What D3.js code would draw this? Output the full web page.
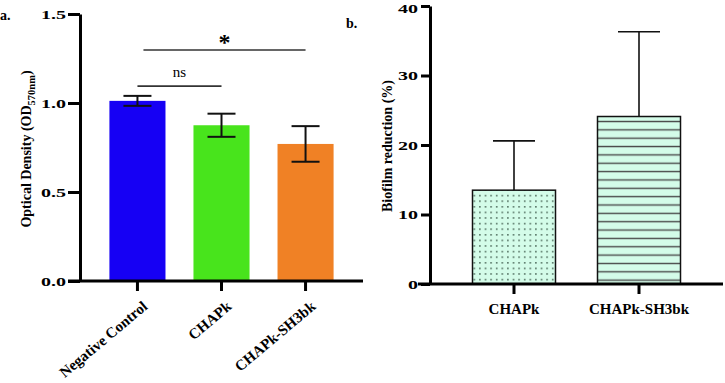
<!DOCTYPE html>
<html>
<head>
<meta charset="utf-8">
<script src="https://cdn.jsdelivr.net/npm/d3@7"></script>
<style>
  body { margin: 0; background: #fff; }
  svg { display: block; font-family: "Liberation Serif", "Times New Roman", serif; }
  .axis path, .axis line { stroke: #000; stroke-width: 3px; }
  .axis text { font-size: 15px; font-weight: bold; fill: #000; font-family: "Liberation Serif", serif; }
  .yax text { font-size: 13px; }
</style>
</head>
<body>
<div id="chart"></div>
<script>
// panel a data
const groupsA = ["Negative Control", "CHAPk", "CHAPk-SH3bk"];
const odMean = [1.012, 0.875, 0.77];
const odErr = [0.028, 0.065, 0.10];
const colorsA = ["#1600f4", "#48e41c", "#f08125"];
const ticksA = [0, 0.5, 1.0, 1.5];
const sigFrom = [0, 0];
const sigTo = [1, 2];
const sigLevel = [1.095, 1.298];
const sigLabel = ["ns", "*"];

// panel b data
const groupsB = ["CHAPk", "CHAPk-SH3bk"];
const reductionMean = [13.5, 24.1];
const reductionErr = [7.1, 12.2];
const ticksB = [0, 10, 20, 30, 40];

const width = 725, height = 383;

const svg = d3.select("#chart")
  .append("svg")
  .attr("width", width)
  .attr("height", height);

const defs = svg.append("defs");

// dotted pattern
const dots = defs.append("pattern")
  .attr("id", "dots")
  .attr("patternUnits", "userSpaceOnUse")
  .attr("width", 5.6).attr("height", 5.6)
  .attr("x", 1.2).attr("y", 2.5);
dots.append("rect").attr("width", 5.6).attr("height", 5.6).attr("fill", "#d4fce9");
dots.append("rect").attr("x", 2).attr("y", 2).attr("width", 1.4).attr("height", 1.4).attr("fill", "#2f4a3c");

// horizontal lines pattern
const hlines = defs.append("pattern")
  .attr("id", "hlines")
  .attr("patternUnits", "userSpaceOnUse")
  .attr("width", 10).attr("height", 8.35)
  .attr("x", 0).attr("y", 0.4);
hlines.append("rect").attr("width", 10).attr("height", 8.35).attr("fill", "#d4fce9");
hlines.append("rect").attr("x", 0).attr("y", 3.5).attr("width", 10).attr("height", 1.4).attr("fill", "#4a4a4a");

// wide digits like the original
const widen = g => g.selectAll(".tick text")
  .attr("textLength", function () {
    const s = this.textContent;
    return s.replace(/\./g, "").length * 10 + (s.match(/\./g) || []).length * 5;
  })
  .attr("lengthAdjust", "spacingAndGlyphs");

// ---------- panel a ----------
const xA = d3.scaleBand()
  .domain(groupsA)
  .range([80, 363])
  .paddingInner(0.333)
  .paddingOuter(0.35);

const yA = d3.scaleLinear()
  .domain([0, 1.5])
  .range([281, 14]);

const pa = svg.append("g");

pa.selectAll("rect.bar")
  .data(groupsA)
  .join("rect")
  .attr("class", "bar")
  .attr("x", d => xA(d))
  .attr("y", (d, i) => yA(odMean[i]))
  .attr("width", xA.bandwidth())
  .attr("height", (d, i) => yA(0) - yA(odMean[i]))
  .attr("fill", (d, i) => colorsA[i]);

// error bars (both directions)
const errA = pa.selectAll("g.err")
  .data(groupsA)
  .join("g")
  .attr("class", "err")
  .attr("stroke", "#111")
  .attr("stroke-width", 2);
errA.append("line")
  .attr("x1", d => xA(d) + xA.bandwidth() / 2)
  .attr("x2", d => xA(d) + xA.bandwidth() / 2)
  .attr("y1", (d, i) => yA(odMean[i] - odErr[i]))
  .attr("y2", (d, i) => yA(odMean[i] + odErr[i]));
[-1, 1].forEach(s => {
  errA.append("line")
    .attr("x1", d => xA(d) + xA.bandwidth() / 2 - 14)
    .attr("x2", d => xA(d) + xA.bandwidth() / 2 + 14)
    .attr("y1", (d, i) => yA(odMean[i] + s * odErr[i]))
    .attr("y2", (d, i) => yA(odMean[i] + s * odErr[i]));
});

// axes
pa.append("g")
  .attr("class", "axis yax")
  .attr("transform", "translate(80,0)")
  .call(d3.axisLeft(yA).tickValues(ticksA).tickFormat(d3.format(".1f")).tickSize(12).tickSizeOuter(0).tickPadding(2))
  .call(widen);

pa.append("g")
  .attr("class", "axis xa")
  .attr("transform", "translate(0,281)")
  .call(d3.axisBottom(xA).tickSize(10).tickSizeOuter(0))
  .call(g => g.select(".domain").attr("d", "M68,0H363"))
  .call(g => g.selectAll("text")
    .attr("text-anchor", "end")
    .attr("font-size", "16px")
    .attr("dx", 0).attr("dy", 0)
    .attr("transform", "translate(11,27) rotate(-40)")
    .attr("y", 0).attr("x", 0));

// significance brackets
sigLabel.forEach((lab, i) => {
  const x1 = xA(groupsA[sigFrom[i]]) + xA.bandwidth() / 2 + (i === 1 ? 6 : 0);
  const x2 = xA(groupsA[sigTo[i]]) + xA.bandwidth() / 2;
  pa.append("line")
    .attr("x1", x1).attr("x2", x2)
    .attr("y1", yA(sigLevel[i])).attr("y2", yA(sigLevel[i]))
    .attr("stroke", "#333").attr("stroke-width", 1.6);
  pa.append("text")
    .attr("x", (x1 + x2) / 2)
    .attr("y", yA(sigLevel[i]) - (lab === "*" ? 0 : 9))
    .attr("text-anchor", "middle")
    .attr("font-size", lab === "*" ? "24px" : "15px")
    .attr("font-weight", lab === "*" ? "bold" : "normal")
    .text(lab);
});

// y label
const ta = pa.append("text")
  .attr("transform", "translate(31,149) rotate(-90)")
  .attr("text-anchor", "middle")
  .attr("font-size", "14px")
  .attr("font-weight", "bold");
ta.append("tspan").text("Optical Density (OD");
ta.append("tspan").attr("font-size", "10.5px").attr("dy", 4).text("570nm");
ta.append("tspan").attr("dy", -4).text(")");

svg.append("text")
  .attr("x", 0).attr("y", 20)
  .attr("font-size", "14px").attr("font-weight", "bold")
  .text("a.");

// ---------- panel b ----------
const xB = d3.scaleBand()
  .domain(groupsB)
  .range([430, 723])
  .paddingInner(0.336)
  .paddingOuter(0.34);

const yB = d3.scaleLinear()
  .domain([0, 40])
  .range([284, 6]);

const pb = svg.append("g");

const fills = ["url(#dots)", "url(#hlines)"];

// error bars (upward only)
const errB = pb.selectAll("g.err")
  .data(groupsB)
  .join("g")
  .attr("class", "err")
  .attr("stroke", "#111")
  .attr("stroke-width", 1.6);
errB.append("line")
  .attr("x1", d => xB(d) + xB.bandwidth() / 2)
  .attr("x2", d => xB(d) + xB.bandwidth() / 2)
  .attr("y1", (d, i) => yB(reductionMean[i]))
  .attr("y2", (d, i) => yB(reductionMean[i] + reductionErr[i]));
errB.append("line")
  .attr("x1", d => xB(d) + xB.bandwidth() / 2 - 21)
  .attr("x2", d => xB(d) + xB.bandwidth() / 2 + 21)
  .attr("y1", (d, i) => yB(reductionMean[i] + reductionErr[i]))
  .attr("y2", (d, i) => yB(reductionMean[i] + reductionErr[i]));

pb.selectAll("rect.bar")
  .data(groupsB)
  .join("rect")
  .attr("class", "bar")
  .attr("x", d => xB(d))
  .attr("y", (d, i) => yB(reductionMean[i]))
  .attr("width", xB.bandwidth())
  .attr("height", (d, i) => yB(0) - yB(reductionMean[i]))
  .attr("fill", (d, i) => fills[i])
  .attr("stroke", "#111")
  .attr("stroke-width", 1.5);

pb.append("g")
  .attr("class", "axis yax")
  .attr("transform", "translate(430,0)")
  .call(d3.axisLeft(yB).tickValues(ticksB).tickFormat(d3.format("d")).tickSize(9).tickSizeOuter(0).tickPadding(3))
  .call(widen)
  .call(g => g.selectAll(".tick text").filter(d => d === 40).attr("dy", "0.5em"));

pb.append("g")
  .attr("class", "axis")
  .attr("transform", "translate(0,284)")
  .call(d3.axisBottom(xB).tickSize(10).tickSizeOuter(0).tickPadding(9))
  .call(g => g.select(".domain").attr("d", "M418,0H723"));

pb.append("text")
  .attr("transform", "translate(392,146) rotate(-90)")
  .attr("text-anchor", "middle")
  .attr("font-size", "14px")
  .attr("font-weight", "bold")
  .text("Biofilm reduction (%)");

svg.append("text")
  .attr("x", 346).attr("y", 28)
  .attr("font-size", "14px").attr("font-weight", "bold")
  .text("b.");
</script>
</body>
</html>
